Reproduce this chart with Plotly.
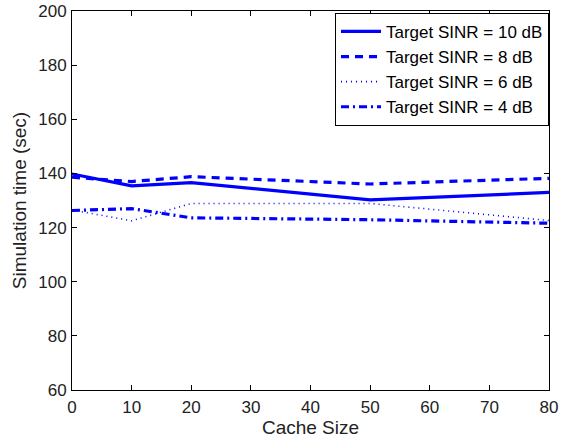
import plotly.graph_objects as go

cache_size = [0, 10, 20, 50, 80]
sinr_10 = [139.8, 135.4, 136.6, 130.2, 133.0]
sinr_8 = [138.6, 137.0, 138.8, 136.1, 138.2]
sinr_6 = [126.5, 122.5, 128.9, 128.9, 122.6]
sinr_4 = [126.3, 127.0, 123.6, 122.9, 121.6]
labels = ["Target SINR = 10 dB", "Target SINR = 8 dB", "Target SINR = 6 dB", "Target SINR = 4 dB"]

styles = [
    dict(width=3.2, dash="solid"),
    dict(width=3.2, dash="8px,6px"),
    dict(width=1.6, dash="1px,4px"),
    dict(width=3.2, dash="8px,4px,2px,4px"),
]

fig = go.Figure()
for ys, lab, st in zip([sinr_10, sinr_8, sinr_6, sinr_4], labels, styles):
    fig.add_trace(go.Scatter(x=cache_size, y=ys, mode="lines", name=lab,
                             line=dict(color="#0000FF", **st)))

font_family = "Liberation Sans, Arial, sans-serif"
axis_common = dict(showline=True, linecolor="black", linewidth=1, mirror="ticks",
                   ticks="inside", ticklen=5, tickcolor="black", showgrid=False,
                   zeroline=False, automargin=False, tickfont=dict(size=17, color="#222"),
                   title_font=dict(size=19, color="#222"))

fig.update_layout(
    width=569, height=441,
    margin=dict(l=72, r=20, t=11, b=51),
    paper_bgcolor="white", plot_bgcolor="white",
    font=dict(family=font_family, color="black"),
    xaxis=dict(range=[0, 80], dtick=10, ticklabelstandoff=2,
               title=dict(text="Cache Size", standoff=4), **axis_common),
    yaxis=dict(range=[60, 200], dtick=20, ticklabelstandoff=1,
               title=dict(text="Simulation time (sec)", standoff=6), **axis_common),
    legend=dict(x=1, xanchor="right", y=0.995, yanchor="top", bgcolor="white",
                bordercolor="black", borderwidth=1, font=dict(size=17, color="black"),
                tracegroupgap=0, itemwidth=40),
    showlegend=True,
)

fig.write_html("out.html")
